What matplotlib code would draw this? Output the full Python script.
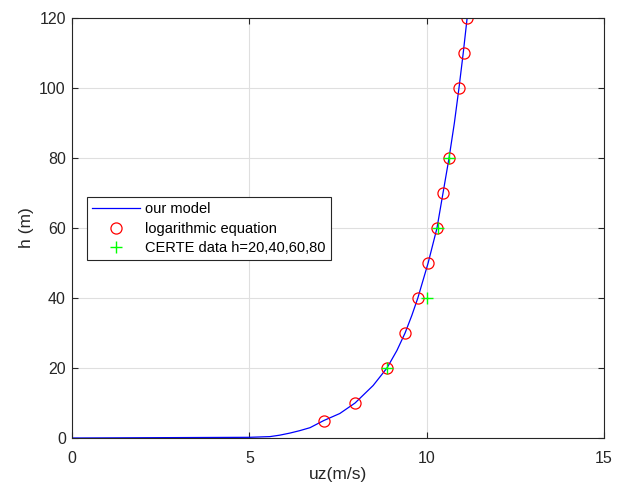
import numpy as np
import matplotlib.pyplot as plt

plt.rcParams['font.family'] = ['Liberation Sans', 'DejaVu Sans']

# our model (blue line)
model_u = [0, 2.5, 5.0, 5.58, 5.85, 6.14, 6.42, 6.71, 7.1, 7.55, 7.98, 8.49, 8.88, 9.16,
           9.39, 9.58, 9.75, 10.04, 10.29, 10.46, 10.63, 10.78, 10.91, 11.03, 11.14]
model_h = [0, 0.1, 0.2, 0.4, 0.8, 1.4, 2.1, 2.95, 5, 7, 10, 15, 20, 25,
           30, 35, 40, 50, 60, 70, 80, 90, 100, 110, 120]

# logarithmic equation (red circles)
log_h = [5, 10, 20, 30, 40, 50, 60, 70, 80, 100, 110, 120]
log_u = [7.10, 7.98, 8.88, 9.39, 9.75, 10.05, 10.29, 10.47, 10.64, 10.92, 11.04, 11.15]

# CERTE data (green plus)
certe_h = [20, 40, 60, 80]
certe_u = [8.88, 10.0, 10.33, 10.64]

axis_col = '#262626'

fig = plt.figure(figsize=(6.24, 4.9), dpi=100)
ax = fig.add_axes([0.1154, 0.1061, 0.8526, 0.857])

ax.plot(model_u, model_h, color='#0000ff', lw=0.9, label='our model')
ax.plot(log_u, log_h, 'o', ms=8, mfc='none', mec='#ff0000', mew=0.9,
        label='logarithmic equation')
ax.plot(certe_u, certe_h, '+', ms=8, color='#00ff00', mew=1.0,
        label='CERTE data h=20,40,60,80')

ax.set_xlim(0, 15)
ax.set_ylim(0, 120)
ax.set_xticks([0, 5, 10, 15])
ax.set_yticks(np.arange(0, 121, 20))
ax.grid(True, color='#dfdfdf', lw=0.8)
ax.set_axisbelow(True)
ax.tick_params(direction='in', length=4, width=0.8, colors=axis_col,
               labelsize=11.5, labelcolor=axis_col, top=True, right=True)
ax.tick_params(axis='x', pad=9.5)
ax.tick_params(axis='y', pad=4.5)
for s in ax.spines.values():
    s.set_color(axis_col)
    s.set_linewidth(0.8)

ax.set_xlabel('uz(m/s)', fontsize=12.5, color=axis_col)
ax.set_ylabel('h (m)', fontsize=12.5, color=axis_col)
ax.xaxis.set_label_coords(0.5, -0.069)
ax.yaxis.set_label_coords(-0.072, 0.5)

leg = ax.legend(loc='upper left', bbox_to_anchor=(0.028, 0.574), borderaxespad=0,
                fontsize=10.5, fancybox=False, framealpha=1, edgecolor=axis_col,
                handlelength=3.3, handletextpad=0.34, borderpad=0.36,
                labelspacing=0.37)
leg.get_frame().set_linewidth(0.8)

fig.savefig('out.png', dpi=100)
